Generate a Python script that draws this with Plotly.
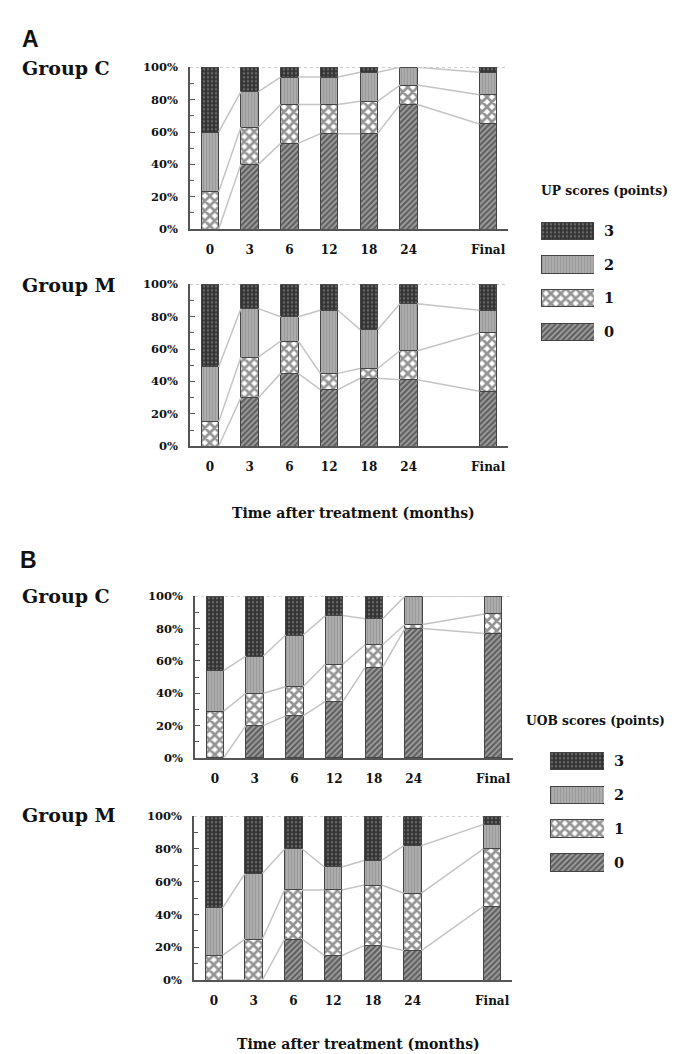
import plotly.graph_objects as go

W, H = 676, 1054

time_labels = ["0", "3", "6", "12", "18", "24", "Final"]
slot = [0, 1, 2, 3, 4, 5, 7]
scores = ["3", "2", "1", "0"]

# percentage of patients per score (0,1,2,3) at each time point
up_c = {
    "0": [0, 40, 53, 59, 59, 77, 65],
    "1": [23, 23, 24, 18, 20, 12, 18],
    "2": [37, 22, 17, 17, 18, 11, 14],
    "3": [40, 15, 6, 6, 3, 0, 3],
}
up_m = {
    "0": [0, 30, 45, 35, 42, 41, 34],
    "1": [15, 25, 20, 10, 6, 18, 36],
    "2": [34, 30, 15, 39, 24, 29, 14],
    "3": [51, 15, 20, 16, 28, 12, 16],
}
uob_c = {
    "0": [0, 20, 26, 35, 56, 80, 77],
    "1": [29, 20, 18, 23, 14, 2.5, 12],
    "2": [25, 23, 32, 30, 16, 17.5, 11],
    "3": [46, 37, 24, 12, 14, 0, 0],
}
uob_m = {
    "0": [0, 0, 25, 15, 21, 18, 45],
    "1": [15, 25, 30, 40, 37, 35, 35],
    "2": [29, 40, 25, 14, 15, 29, 15],
    "3": [56, 35, 20, 31, 27, 18, 5],
}

patterns = {
    "3": dict(shape=".", bgcolor="#333333", fgcolor="#9a9a9a", size=4, solidity=0.3),
    "2": dict(shape="|", bgcolor="#acacac", fgcolor="#858585", size=3, solidity=0.35),
    "1": dict(shape="x", bgcolor="#ffffff", fgcolor="#2a2a2a", size=7, solidity=0.62),
    "0": dict(shape="/", bgcolor="#a4a4a4", fgcolor="#1c1c1c", size=4, solidity=0.6),
}

SERIF = "DejaVu Serif"
BW = 0.44


def px(x, y):
    return x / W, 1 - y / H


def ydom(top, bot):
    return [1 - bot / H, 1 - top / H]


panels = [
    (up_c, [182 / W, 500 / W], ydom(53, 217)),
    (up_m, [182 / W, 500 / W], ydom(273, 437)),
    (uob_c, [187 / W, 505 / W], ydom(589, 753)),
    (uob_m, [186 / W, 504 / W], ydom(812, 978)),
]

fig = go.Figure()
layout = {}

for i, (data, xd, yd) in enumerate(panels, start=1):
    xa = "x" if i == 1 else f"x{i}"
    ya = "y" if i == 1 else f"y{i}"
    # connector lines between cumulative boundaries
    lx, ly = [], []
    cum = [0] * len(slot)
    for s in ["0", "1", "2"]:
        cum = [c + v for c, v in zip(cum, data[s])]
        for j in range(len(slot) - 1):
            lx += [slot[j] + BW / 2, slot[j + 1] - BW / 2, None]
            ly += [cum[j], cum[j + 1], None]
    fig.add_trace(go.Scatter(x=lx, y=ly, mode="lines", line=dict(color="#c4c4c4", width=1.5),
                             xaxis=xa, yaxis=ya, showlegend=False, hoverinfo="skip"))
    for s in ["0", "1", "2", "3"]:
        fig.add_trace(go.Bar(x=slot, y=data[s], width=BW, name=s, xaxis=xa, yaxis=ya,
                             marker=dict(color=patterns[s]["bgcolor"], pattern=patterns[s],
                                         line=dict(color="#444444", width=1)),
                             showlegend=False))
    layout[f"xaxis{i}" if i > 1 else "xaxis"] = dict(
        domain=xd, anchor=ya, range=[-0.5, 7.5], tickvals=slot, ticktext=time_labels,
        showline=True, linecolor="#555555", linewidth=1.5, showgrid=False, zeroline=False,
        ticks="", tickfont=dict(family=SERIF, size=12, color="#111111", weight="bold"),
        ticklabelstandoff=9)
    layout[f"yaxis{i}" if i > 1 else "yaxis"] = dict(
        domain=yd, anchor=xa, range=[0, 100], dtick=20, ticksuffix="%",
        showline=True, linecolor="#555555", linewidth=1.5, showgrid=False, zeroline=False,
        ticks="inside", ticklen=5, tickcolor="#555555",
        minor=dict(dtick=10, ticks="inside", ticklen=4, tickcolor="#555555"),
        tickfont=dict(family=SERIF, size=11.5, color="#111111", weight="bold"),
        ticklabelstandoff=8)

# legend axes (swatches)
legend_axes = [
    (5, [533 / W, 586 / W], ydom(202, 338)),
    (6, [542 / W, 596 / W], ydom(739, 876)),
]
for k, xd, yd in legend_axes:
    for s in scores:
        fig.add_trace(go.Bar(x=[1], y=[s], orientation="h", width=0.52, xaxis=f"x{k}", yaxis=f"y{k}",
                             marker=dict(color=patterns[s]["bgcolor"], pattern=patterns[s],
                                         line=dict(color="#444444", width=1)),
                             showlegend=False, hoverinfo="skip"))
    layout[f"xaxis{k}"] = dict(domain=xd, anchor=f"y{k}", range=[0, 1], visible=False)
    layout[f"yaxis{k}"] = dict(domain=yd, anchor=f"x{k}", side="right", type="category",
                               categoryorder="array", categoryarray=["0", "1", "2", "3"],
                               range=[-0.5, 3.5], showline=False, showgrid=False, zeroline=False,
                               ticks="", ticklabelstandoff=9,
                               tickfont=dict(family=SERIF, size=14.5, color="#111111", weight="bold"))

shapes = []
for i in range(1, 5):
    xa = "x" if i == 1 else f"x{i}"
    ya = "y" if i == 1 else f"y{i}"
    shapes.append(dict(type="line", xref=f"{xa} domain", yref=ya, x0=0, x1=1, y0=100, y1=100,
                       line=dict(color="#aaaaaa", width=1, dash="dot"), layer="below"))

annotations = []


def ann(text, x, y, size, family=SERIF, xanchor="left"):
    ax, ay = px(x, y)
    annotations.append(dict(text=text, x=ax, y=ay, xref="paper", yref="paper", showarrow=False,
                            xanchor=xanchor, yanchor="middle",
                            font=dict(family=family, size=size, color="#111111")))


ann("<b>A</b>", 12, 24, 23, family="Liberation Sans")
ann("<b>B</b>", 10, 552, 23, family="Liberation Sans")
ann("<b>Group C</b>", 12, 54, 19)
ann("<b>Group M</b>", 12, 274, 19)
ann("<b>Group C</b>", 12, 589, 19)
ann("<b>Group M</b>", 12, 811, 19)
ann("<b>Time after treatment (months)</b>", 345, 505, 14, xanchor="center")
ann("<b>Time after treatment (months)</b>", 350, 1043, 14, xanchor="center")
ann("<b>UP scores (points)</b>", 531, 178, 12.3)
ann("<b>UOB scores (points)</b>", 516, 715, 12.3)

fig.update_layout(
    width=W, height=H, margin=dict(l=0, r=0, t=0, b=0),
    paper_bgcolor="white", plot_bgcolor="white", barmode="stack",
    shapes=shapes, annotations=annotations, showlegend=False,
    font=dict(family=SERIF, color="#111111"),
    **layout,
)

fig.write_html("out.html")
